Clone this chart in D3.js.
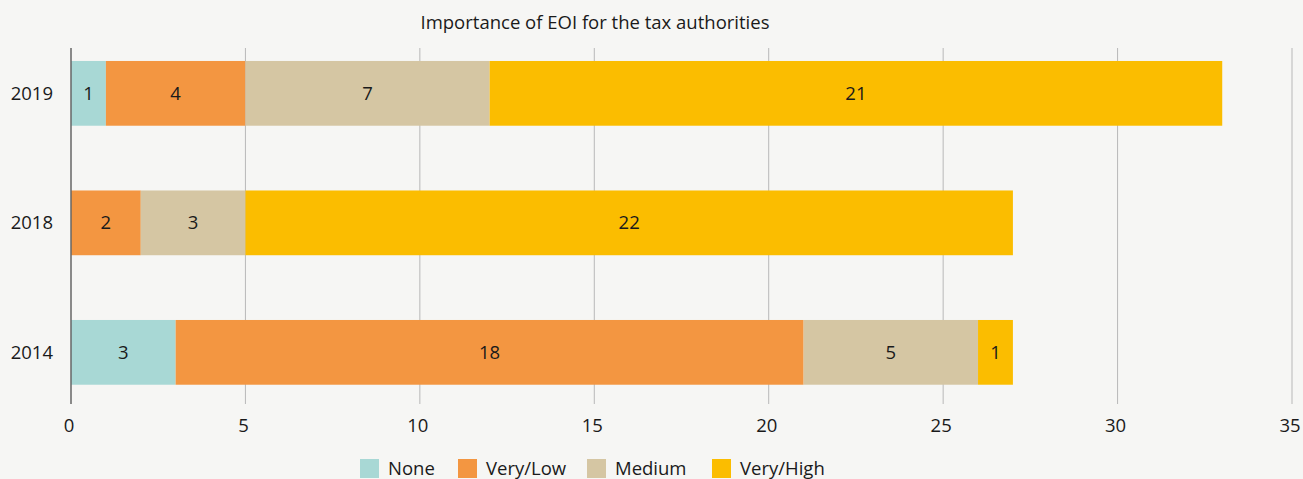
<!DOCTYPE html>
<html>
<head>
<meta charset="utf-8">
<script src="https://cdn.jsdelivr.net/npm/d3@7"></script>
<style>
  body { margin: 0; background: #f6f6f4; }
  svg { display: block; font-family: "Open Sans", "Noto Sans", sans-serif; }
</style>
</head>
<body>
<svg id="chart"></svg>
<script>
// categories and series
const years = ["2019", "2018", "2014"];
const levels = ["None", "Very/Low", "Medium", "Very/High"];
const noneVals = [1, 0, 3];
const veryLowVals = [4, 2, 18];
const mediumVals = [7, 3, 5];
const veryHighVals = [21, 22, 1];
const xTicks = [0, 5, 10, 15, 20, 25, 30, 35];
const colors = ["#a8d8d5", "#f39641", "#d5c6a3", "#fbbd00"];

const width = 1303;
const height = 479;
const fontSize = 18.5;

const svg = d3.select("#chart")
  .attr("width", width)
  .attr("height", height);

// rows for the stack
const rows = years.map((y, i) => ({
  year: y,
  "None": noneVals[i],
  "Very/Low": veryLowVals[i],
  "Medium": mediumVals[i],
  "Very/High": veryHighVals[i]
}));
const series = d3.stack().keys(levels)(rows);

const x = d3.scaleLinear().domain([0, 35]).range([71, 1292]);
const y = d3.scaleBand().domain(years).range([28.6, 417.1])
  .paddingInner(0.5).paddingOuter(0.25);

// title
svg.append("text")
  .attr("x", 595)
  .attr("y", 29)
  .attr("text-anchor", "middle")
  .attr("font-size", fontSize)
  .attr("fill", "#1a1a1a")
  .text("Importance of EOI for the tax authorities");

// grid lines
svg.append("g")
  .selectAll("line")
  .data(xTicks.filter(d => d > 0))
  .join("line")
  .attr("x1", d => x(d)).attr("x2", d => x(d))
  .attr("y1", 48).attr("y2", 404)
  .attr("stroke", "#b8b8b8")
  .attr("stroke-width", 1);

// bars
const groups = svg.append("g")
  .selectAll("g")
  .data(series)
  .join("g")
  .attr("fill", (d, i) => colors[i]);

groups.selectAll("rect")
  .data(d => d.filter(s => s[1] - s[0] > 0))
  .join("rect")
  .attr("x", d => x(d[0]))
  .attr("y", d => y(d.data.year))
  .attr("width", d => x(d[1]) - x(d[0]))
  .attr("height", y.bandwidth());

// value labels
svg.append("g")
  .selectAll("g")
  .data(series)
  .join("g")
  .selectAll("text")
  .data(d => d.filter(s => s[1] - s[0] > 0))
  .join("text")
  .attr("x", d => (x(d[0]) + x(d[1])) / 2)
  .attr("y", d => y(d.data.year) + y.bandwidth() / 2)
  .attr("dy", "0.35em")
  .attr("text-anchor", "middle")
  .attr("font-size", fontSize)
  .attr("fill", "#1a1a1a")
  .text(d => d[1] - d[0]);

// zero axis line
svg.append("line")
  .attr("x1", x(0)).attr("x2", x(0))
  .attr("y1", 48).attr("y2", 404)
  .attr("stroke", "#666")
  .attr("stroke-width", 1.5);

// y labels
svg.append("g")
  .selectAll("text")
  .data(years)
  .join("text")
  .attr("x", 53)
  .attr("y", d => y(d) + y.bandwidth() / 2)
  .attr("dy", "0.35em")
  .attr("text-anchor", "end")
  .attr("font-size", fontSize)
  .attr("fill", "#1a1a1a")
  .text(d => d);

// x tick labels
svg.append("g")
  .selectAll("text")
  .data(xTicks)
  .join("text")
  .attr("x", d => x(d) - 2)
  .attr("y", 426)
  .attr("dy", "0.35em")
  .attr("text-anchor", "middle")
  .attr("font-size", fontSize)
  .attr("fill", "#1a1a1a")
  .text(d => d);

// legend
const legendX = [360, 458, 587, 712];
const legend = svg.append("g")
  .selectAll("g")
  .data(levels)
  .join("g")
  .attr("transform", (d, i) => `translate(${legendX[i]},459)`);
legend.append("rect")
  .attr("width", 19).attr("height", 19)
  .attr("fill", (d, i) => colors[i]);
legend.append("text")
  .attr("x", 28)
  .attr("y", 10)
  .attr("dy", "0.35em")
  .attr("font-size", fontSize)
  .attr("fill", "#1a1a1a")
  .text(d => d);
</script>
</body>
</html>
